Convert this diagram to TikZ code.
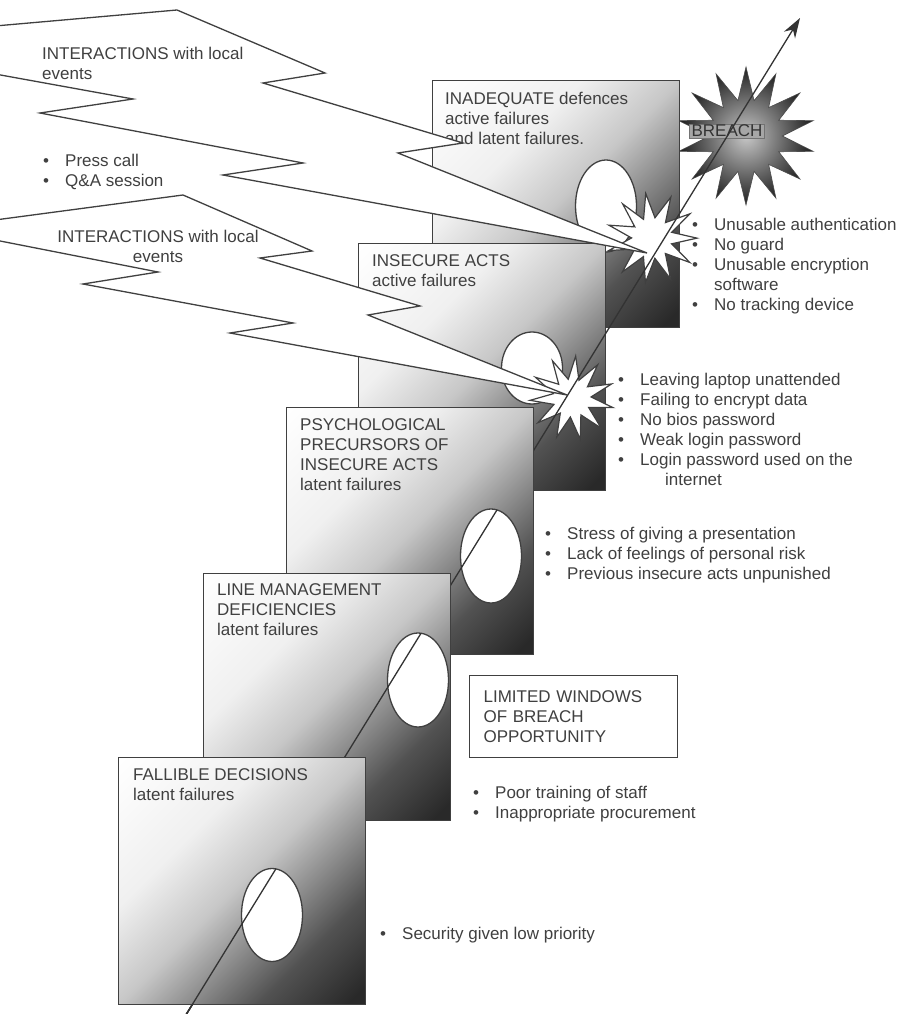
\documentclass[tikz,border=0pt]{standalone}
\usepackage{fontspec}
\setmainfont{Liberation Sans}
\usetikzlibrary{shapes.geometric,arrows.meta,intersections}
\pgfdeclareverticalshading{slicefade}{100bp}{color(0bp)=(black!84); color(17bp)=(black!84);
  color(30bp)=(black!68); color(40bp)=(black!45); color(50bp)=(black!22); color(64bp)=(black!6);
  color(85bp)=(white); color(100bp)=(white)}

\begin{document}
\begin{tikzpicture}[x=1pt,y=-1pt,
    slice/.style={rectangle, draw=black!75, line width=1.3pt, inner sep=0pt,
      minimum width=\side, minimum height=\side, anchor=north west,
      shade, shading=slicefade, shading angle=45},
    hole/.style={ellipse, draw=black!75, fill=white, line width=1.3pt, inner sep=0pt, minimum width=61pt},
    bolt/.style={draw=black!75, fill=white, line width=1.3pt},
    bang/.style={star, star point ratio=2.2, draw=black!75, fill=white, line width=1.2pt, inner sep=0pt},
    lbl/.style={font=\fontsize{17}{20}\selectfont, text=black!75, align=left, inner sep=0pt, anchor=north west},
    traj/.style={draw=black!80, line width=1.3pt}]
  \def\side{247pt}
  \def\itm#1{\makebox[22pt][l]{\textbullet}#1}
  \useasboundingbox (0,0) rectangle (901,1014);
  \fill[white] (0,0) rectangle (901,1014);
  \coordinate (start) at (184,1018);
  \coordinate (tip) at (800,18);
  \path[name path=traj] (start) -- (tip);

  % breach
  \node[star, star points=14, star point ratio=1.9, minimum size=138pt, inner sep=0pt,
    inner color=black!22, outer color=black!88, draw=black!70, line width=0.6pt] (breach) at (746,136) {};

  % inadequate defences
  \node[slice] (inadequate) at (432,80) {};
  \node[hole, minimum height=92pt] (hole5) at (606,206) {};
  \node[lbl] (t5) at (445,92) {INADEQUATE defences\\active failures\\and latent failures.};

  % insecure acts
  \node[slice] (insecure) at (358,243) {};
  \node[hole, minimum height=72pt] (hole4) at (532,368) {};
  \node[lbl] (t4) at (372,254) {INSECURE ACTS\\active failures};

  % local events
  \node[bang, star points=11, minimum size=90pt, rotate=8] (bang5) at (652,238) {};
  \node[bang, star points=11, minimum size=84pt, rotate=-5] (bang4) at (572,398) {};
  \draw[bolt] (-5,26) -- (177,10) -- (325,73) -- (263,83) -- (463,143) -- (398,153) -- (647,253)
    -- (223,175) -- (303,163) -- (40,113) -- (133,99) -- (-5,74) -- cycle;
  \draw[bolt] (-5,220) -- (183,195) -- (312,251) -- (260,258) -- (420,306) -- (368,315) -- (567,395)
    -- (230,333) -- (293,323) -- (83,284) -- (158,272) -- (-5,240) -- cycle;
  \node[lbl] (ev1) at (42,47) {INTERACTIONS with local\\events};
  \node[lbl, align=center, anchor=north] (ev2) at (158,230) {INTERACTIONS with local\\events};
  \node[lbl] (press) at (43,154) {\itm{Press call}\\\itm{Q\&A session}};

  \node[font=\fontsize{17}{20}\selectfont, text=black!80, fill=black!35, draw=black!55,
    inner xsep=2pt, inner ysep=1pt] (breachlbl) at (727,131) {BREACH};
  \draw[traj, -{Stealth[length=20pt,width=13pt]}] (start) -- (tip);

  % psychological precursors
  \node[slice] (psych) at (286,407) {};
  \node[hole, minimum height=94pt, name path=h3] (hole3) at (491,556) {};
  \node[lbl] (t3) at (300,418) {PSYCHOLOGICAL\\PRECURSORS OF\\INSECURE ACTS\\latent failures};
  \path[name intersections={of=traj and h3, sort by=traj, name=x3}];
  \draw[traj] (start) -- (x3-2);

  % line management
  \node[slice] (linemgmt) at (203,573) {};
  \node[hole, minimum height=94pt, name path=h2] (hole2) at (418,680) {};
  \node[lbl] (t2) at (217,583) {LINE MANAGEMENT\\DEFICIENCIES\\latent failures};
  \path[name intersections={of=traj and h2, sort by=traj, name=x2}];
  \draw[traj] (start) -- (x2-2);

  % fallible decisions
  \node[slice] (fallible) at (118,757) {};
  \node[hole, minimum height=93pt, name path=h1] (hole1) at (272,915) {};
  \node[lbl] (t1) at (133,768) {FALLIBLE DECISIONS\\latent failures};
  \path[name intersections={of=traj and h1, sort by=traj, name=x1}];
  \draw[traj] (start) -- (x1-2);

  % lists
  \node[lbl] (l5) at (692,218) {\itm{Unusable authentication}\\\itm{No guard}\\\itm{Unusable encryption}\\\hspace*{22pt}software\\\itm{No tracking device}};
  \node[lbl] (l4) at (618,373) {\itm{Leaving laptop unattended}\\\itm{Failing to encrypt data}\\\itm{No bios password}\\\itm{Weak login password}\\\itm{Login password used on the}\\\hspace*{47pt}internet};
  \node[lbl] (l3) at (545,527) {\itm{Stress of giving a presentation}\\\itm{Lack of feelings of personal risk}\\\itm{Previous insecure acts unpunished}};
  \node[lbl, draw=black!75, line width=1.2pt, inner xsep=14pt, text width=180pt, minimum height=82pt] (windows) at (469,675) {LIMITED WINDOWS\\OF BREACH\\OPPORTUNITY};
  \node[lbl] (l2) at (473,786) {\itm{Poor training of staff}\\\itm{Inappropriate procurement}};
  \node[lbl] (l1) at (380,927) {\itm{Security given low priority}};
\end{tikzpicture}
\end{document}
